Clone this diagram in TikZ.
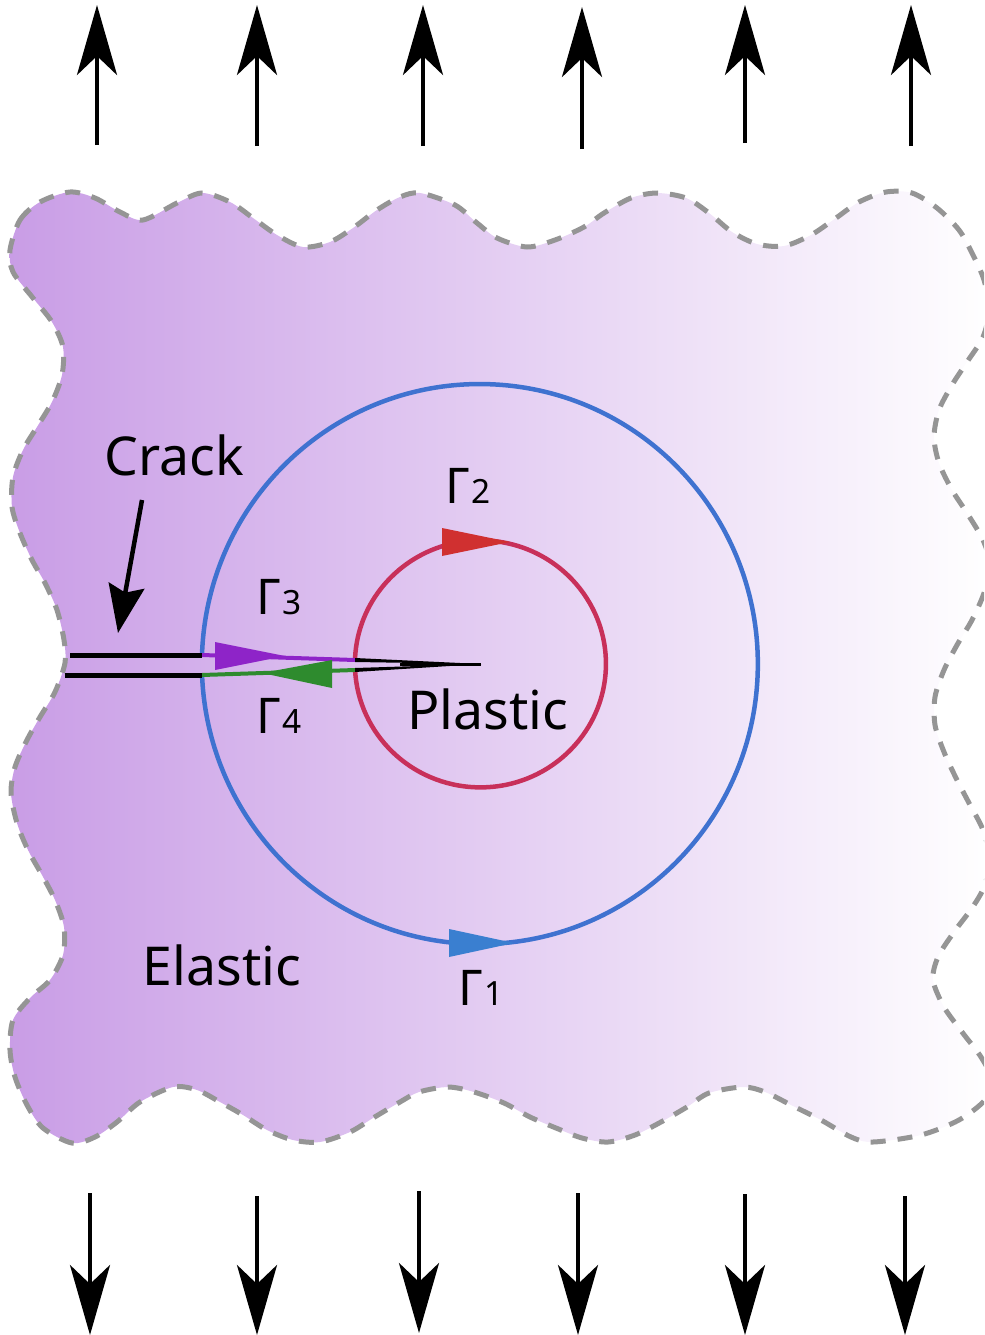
\documentclass[tikz,border=0pt]{standalone}
\usepackage{fontspec}
\setmainfont{Noto Sans}
\usepackage{tikz}
\usetikzlibrary{arrows.meta,calc,positioning}
\definecolor{bodyleft}{HTML}{C99DE6}
\definecolor{bodymid}{HTML}{E3CEF2}
\definecolor{dashgray}{HTML}{959595}
\definecolor{gammablue}{HTML}{3F72D0}
\definecolor{tipblue}{HTML}{3A7FD0}
\definecolor{gammared}{HTML}{C8305A}
\definecolor{tipred}{HTML}{D03030}
\definecolor{gammapurple}{HTML}{8E24C8}
\definecolor{gammagreen}{HTML}{2E8B2E}
\newcommand{\gam}[1]{Γ\kern1pt{\fontsize{19}{19}\selectfont #1}}

\begin{document}
\begin{tikzpicture}[x=0.02cm, y=-0.02cm,
  force/.style={line width=0.09cm, -{Stealth[length=1.4cm, width=0.8cm, inset=0.38cm]}},
  pointer/.style={line width=0.09cm, -{Stealth[length=0.96cm, width=0.72cm, inset=0.14cm]}},
  edge/.style={line width=0.1cm, black},
  word/.style={font=\fontsize{30.5}{30.5}\selectfont, inner sep=0pt},
  gamlabel/.style={font=\fontsize{28}{28}\selectfont, inner sep=0pt}]

\clip (0,0) rectangle (984,1335);

% body
\draw[line width=0.1cm, dashgray, dash pattern=on 0.3cm off 0.24cm,
  left color=bodyleft, middle color=bodymid, right color=white]
  plot[smooth cycle, tension=0.5] coordinates {
  (10,250) (20,220) (40,202) (70,192) (95,198) (120,212) (143,220) (177,203)
  (202,193) (230,202) (253,218) (277,235) (303,247) (330,242) (353,228) (377,210)
  (400,197) (420,193) (455,205) (477,223) (497,238) (527,247) (555,240) (584,227)
  (604,213) (631,198) (657,193) (686,198) (709,213) (732,232) (757,244) (784,246)
  (811,235) (836,218) (859,202) (886,192) (912,193) (937,208) (959,230) (972,253)
  (984,280) (989,310) (983,337) (967,362) (952,385) (939,410) (934,437) (939,463)
  (952,490) (967,513) (983,540) (990,565) (984,593) (972,620) (957,645) (944,670)
  (935,697) (935,725) (944,752) (956,778) (969,803) (983,830) (990,860) (984,887)
  (972,908) (954,932) (938,957) (933,980) (944,1007) (962,1032) (981,1057) (992,1080)
  (985,1100) (959,1120) (921,1135) (873,1142) (851,1137) (821,1120) (791,1105) (765,1092)
  (743,1087) (709,1093) (687,1107) (661,1122) (635,1135) (608,1142) (582,1138) (556,1128)
  (530,1117) (504,1103) (474,1092) (448,1087) (419,1092) (400,1102) (373,1118) (350,1132)
  (320,1142) (293,1140) (267,1130) (243,1115) (220,1102) (197,1090) (173,1087) (140,1102)
  (117,1122) (95,1137) (72,1143) (43,1128) (27,1105) (15,1077) (10,1050) (13,1020)
  (30,998) (50,980) (63,955) (64,927) (55,900) (42,875) (28,850) (17,823)
  (11,793) (15,767) (27,740) (40,717) (55,692) (65,663) (64,640) (57,610)
  (45,583) (32,560) (20,533) (12,507) (13,477) (23,450) (37,427) (52,402)
  (62,375) (63,347) (52,322) (33,298) (13,272)};

% top arrows
\coordinate (t1a) at (97,145);  \coordinate (t1b) at (97,5);
\coordinate (t2a) at (257,146); \coordinate (t2b) at (257,5);
\coordinate (t3a) at (423,146); \coordinate (t3b) at (423,5);
\coordinate (t4a) at (582,149); \coordinate (t4b) at (582,7);
\coordinate (t5a) at (745,143); \coordinate (t5b) at (745,5);
\coordinate (t6a) at (911,146); \coordinate (t6b) at (911,5);
\draw[force] (t1a) -- (t1b);
\draw[force] (t2a) -- (t2b);
\draw[force] (t3a) -- (t3b);
\draw[force] (t4a) -- (t4b);
\draw[force] (t5a) -- (t5b);
\draw[force] (t6a) -- (t6b);

% bottom arrows
\coordinate (b1a) at (90,1193);  \coordinate (b1b) at (90,1335);
\coordinate (b2a) at (257,1196); \coordinate (b2b) at (257,1335);
\coordinate (b3a) at (419,1191); \coordinate (b3b) at (419,1333);
\coordinate (b4a) at (578,1193); \coordinate (b4b) at (578,1335);
\coordinate (b5a) at (745,1194); \coordinate (b5b) at (745,1335);
\coordinate (b6a) at (905,1196); \coordinate (b6b) at (905,1335);
\draw[force] (b1a) -- (b1b);
\draw[force] (b2a) -- (b2b);
\draw[force] (b3a) -- (b3b);
\draw[force] (b4a) -- (b4b);
\draw[force] (b5a) -- (b5b);
\draw[force] (b6a) -- (b6b);

% crack faces and tip
\coordinate (tip) at (481,664);
\coordinate (upa) at (70,655);   \coordinate (upb) at (202,655);  \coordinate (upc) at (355,660);
\coordinate (loa) at (65,675);   \coordinate (lob) at (202,675);  \coordinate (loc) at (355,670);

% gamma 1 and gamma 2, open at the crack
\draw[line width=0.09cm, gammablue] (upb) arc[start angle=181.85, end angle=537.7, x radius=278, y radius=280];
\draw[line width=0.09cm, gammared] (upc) arc[start angle=181.8, end angle=537.3, x radius=125.5, y radius=123.5];

% gamma 3 and gamma 4 along the faces
\draw[line width=0.08cm, gammapurple] (upb) -- (upc);
\draw[line width=0.08cm, gammagreen] (lob) -- (loc);
\draw[edge] (upa) -- (upb);
\draw[edge] (loa) -- (lob);
\fill[black] (355,658) -- (tip) -- (355,662) -- cycle;
\fill[black] (355,668) -- (tip) -- (355,672) -- cycle;
\draw[line width=0.06cm, black] (400,664) -- (tip);

% direction marks
\fill[tipblue] (449,929) -- (514,943) -- (449,957) -- cycle;
\fill[tipred] (442,528) -- (510,542) -- (442,556) -- cycle;
\fill[gammapurple] (215,642) -- (285,656) -- (215,670) -- cycle;
\fill[gammagreen] (332,660) -- (262,673) -- (332,688) -- cycle;

% labels
\node[word] (crack) at (174,455) {Crack};
\node[word] (elastic) at (222,965) {Elastic};
\node[word] (plastic) at (488,709) {Plastic};
\node[gamlabel] (g1) at (481,988) {\gam{1}};
\node[gamlabel] (g2) at (468,486) {\gam{2}};
\node[gamlabel] (g3) at (279,597) {\gam{3}};
\node[gamlabel] (g4) at (279,716) {\gam{4}};

% crack pointer
\coordinate (cr1) at (142,500);
\coordinate (cr2) at (118,633);
\draw[pointer] (cr1) -- (cr2);

\end{tikzpicture}
\end{document}
